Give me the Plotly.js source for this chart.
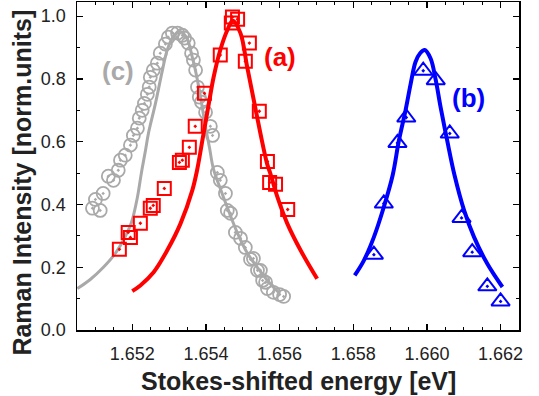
<!DOCTYPE html>
<html>
<head>
<meta charset="utf-8">
<script src="https://cdn.plot.ly/plotly-3.0.1.min.js"></script>
<style>html,body{margin:0;padding:0;background:#fff;}#chart{width:539px;height:396px;}</style>
</head>
<body>
<div id="chart"></div>
<script>
// (c) gray circles – measured points
const cEnergy = [1.65092,1.65100,1.65113,1.65121,1.65135,1.65149,1.65162,1.65168,1.65181,1.65195,1.65203,1.65214,1.65219,1.65227,1.65233,1.65241,1.65246,1.65249,1.65257,1.65268,1.65276,1.65290,1.65298,1.65309,1.65323,1.65336,1.65342,1.65352,1.65361,1.65366,1.65372,1.65377,1.65382,1.65388,1.65399,1.65412,1.65418,1.65431,1.65439,1.65453,1.65458,1.65467,1.65480,1.65494,1.65507,1.65521,1.65529,1.65540,1.65548,1.65554,1.65562,1.65567,1.65583,1.65600,1.65611];
const cIntensity = [0.388,0.416,0.381,0.435,0.490,0.477,0.509,0.541,0.557,0.589,0.620,0.643,0.675,0.700,0.722,0.751,0.774,0.805,0.828,0.850,0.882,0.911,0.933,0.946,0.946,0.939,0.930,0.914,0.882,0.860,0.828,0.774,0.742,0.726,0.694,0.649,0.620,0.502,0.477,0.435,0.381,0.372,0.311,0.292,0.263,0.225,0.228,0.190,0.190,0.158,0.152,0.132,0.120,0.113,0.107];
// (c) fit curve
const cFitEnergy = [1.65051,1.65086,1.65121,1.65154,1.65181,1.65198,1.65214,1.65225,1.65236,1.65244,1.65263,1.65282,1.65295,1.65312,1.65328,1.65347,1.65363,1.65377,1.65390,1.65399,1.65410,1.65420,1.65439,1.65458,1.65486,1.65513,1.65540,1.65567,1.65597];
const cFitIntensity = [0.132,0.161,0.199,0.244,0.298,0.343,0.423,0.502,0.573,0.627,0.722,0.828,0.892,0.936,0.952,0.933,0.869,0.796,0.710,0.646,0.579,0.515,0.451,0.391,0.308,0.244,0.199,0.158,0.120];

// (a) red squares
const aEnergy = [1.65165,1.65189,1.65195,1.65222,1.65249,1.65257,1.65287,1.65328,1.65336,1.65355,1.65371,1.65396,1.65439,1.65472,1.65486,1.65469,1.65507,1.65518,1.65545,1.65567,1.65573,1.65589,1.65622];
const aIntensity = [0.257,0.311,0.295,0.340,0.388,0.397,0.451,0.534,0.541,0.582,0.649,0.754,0.876,0.997,0.990,0.978,0.856,0.914,0.697,0.537,0.470,0.464,0.384];
const aFitEnergy = [1.65200,1.65222,1.65258,1.65295,1.65331,1.65363,1.65376,1.65392,1.65408,1.65421,1.65439,1.65458,1.65473,1.65494,1.65512,1.65530,1.65548,1.65566,1.65575,1.65594,1.65621,1.65657,1.65702];
const aFitIntensity = [0.124,0.142,0.184,0.254,0.339,0.445,0.509,0.615,0.722,0.806,0.892,0.955,0.986,0.945,0.838,0.732,0.626,0.530,0.498,0.424,0.339,0.254,0.163];

// (b) blue triangles
const bEnergy = [1.65856,1.65883,1.65920,1.65944,1.65990,1.66024,1.66062,1.66094,1.66123,1.66164,1.66200];
const bIntensity = [0.240,0.403,0.596,0.677,0.826,0.796,0.626,0.357,0.248,0.139,0.091];
const bFitEnergy = [1.65804,1.65829,1.65856,1.65883,1.65907,1.65924,1.65942,1.65956,1.65969,1.65981,1.65994,1.66010,1.66024,1.66037,1.66055,1.66075,1.66101,1.66128,1.66164,1.66205];
const bFitIntensity = [0.174,0.222,0.296,0.392,0.493,0.604,0.700,0.785,0.854,0.881,0.892,0.865,0.796,0.711,0.604,0.493,0.381,0.296,0.211,0.137];

const xTickVals = [1.652,1.654,1.656,1.658,1.660,1.662];
const xTickText = ['1.652','1.654','1.656','1.658','1.660','1.662'];
const yTickVals = [0.0,0.2,0.4,0.6,0.8,1.0];
const yTickText = ['0.0','0.2','0.4','0.6','0.8','1.0'];

const GRAY = '#a9a9a9', RED = '#ff0000', BLUE = '#0000ff';
const FONT = 'Liberation Sans, Arial, Helvetica, sans-serif';

const traces = [
  {x:cEnergy, y:cIntensity, mode:'markers', type:'scatter',
   marker:{symbol:'circle-open-dot', size:13, color:GRAY, line:{width:1.8, color:GRAY}}},
  {x:cFitEnergy, y:cFitIntensity, mode:'lines', type:'scatter', line:{color:GRAY, width:3, shape:'spline'}},
  {x:aFitEnergy, y:aFitIntensity, mode:'lines', type:'scatter', line:{color:RED, width:4, shape:'spline'}},
  {x:aEnergy, y:aIntensity, mode:'markers', type:'scatter',
   marker:{symbol:'square-open-dot', size:13, color:RED, line:{width:2, color:RED}}},
  {x:bFitEnergy, y:bFitIntensity, mode:'lines', type:'scatter', line:{color:BLUE, width:4, shape:'spline'}},
  {x:bEnergy, y:bIntensity, mode:'markers', type:'scatter',
   marker:{symbol:'triangle-up-open-dot', size:16, color:BLUE, line:{width:2, color:BLUE}}}
];

const axisCommon = {
  showline:true, linecolor:'#000', linewidth:1.5, mirror:'ticks',
  ticks:'inside', ticklen:6, tickwidth:1.2, tickcolor:'#000',
  showgrid:false, zeroline:false,
  tickfont:{family:FONT, size:18, color:'#222'}
};

const layout = {
  width:539, height:396,
  margin:{l:77, r:20, t:2, b:66, pad:0},
  paper_bgcolor:'#fff', plot_bgcolor:'#fff',
  showlegend:false,
  xaxis:Object.assign({}, axisCommon, {
    range:[1.6505, 1.6625], tickvals:xTickVals, ticktext:xTickText,
    ticklabelstandoff:7,
    minor:{dtick:0.0005, tick0:1.652, ticks:'inside', ticklen:3, tickwidth:1, tickcolor:'#000'}
  }),
  yaxis:Object.assign({}, axisCommon, {
    range:[0, 1.045], tickvals:yTickVals, ticktext:yTickText,
    ticklabelstandoff:6,
    minor:{dtick:0.1, tick0:0, ticks:'inside', ticklen:3, tickwidth:1, tickcolor:'#000'}
  }),
  annotations:[
    {text:'<b>(c)</b>', x:1.65162, y:0.826, xref:'x', yref:'y', showarrow:false,
     font:{family:FONT, size:26, color:GRAY}},
    {text:'<b>(a)</b>', x:1.65602, y:0.869, xref:'x', yref:'y', showarrow:false,
     font:{family:FONT, size:26, color:RED}},
    {text:'<b>(b)</b>', x:1.66112, y:0.739, xref:'x', yref:'y', showarrow:false,
     font:{family:FONT, size:26, color:BLUE}},
    {text:'<b>Stokes-shifted energy [eV]</b>', xref:'paper', yref:'paper', x:0.5, y:-0.157,
     xanchor:'center', yanchor:'middle', showarrow:false, font:{family:FONT, size:25, color:'#222'}},
    {text:'<b>Raman Intensity [norm.units]</b>', xref:'paper', yref:'paper', x:-0.124, y:0.45,
     xanchor:'center', yanchor:'middle', textangle:-90, showarrow:false, font:{family:FONT, size:25, color:'#222'}}
  ]
};

Plotly.newPlot('chart', traces, layout, {displayModeBar:false, staticPlot:true});
</script>
</body>
</html>
